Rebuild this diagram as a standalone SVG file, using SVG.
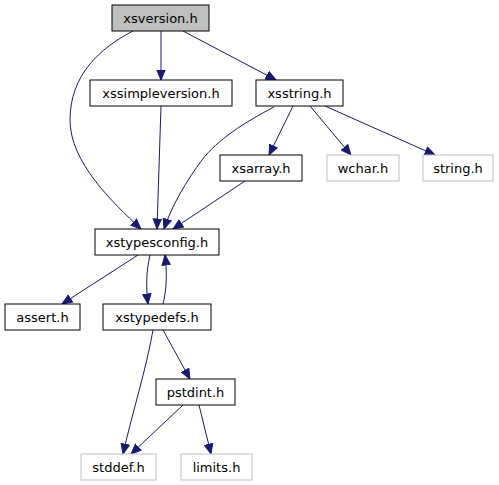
<svg xmlns="http://www.w3.org/2000/svg" width="499" height="485" viewBox="0 0 499 485">
<defs>
<style>
.n rect{fill:#ffffff;stroke:#000000;stroke-width:1}
.g rect{fill:#ffffff;stroke:#bfbfbf;stroke-width:1}
#n_xsversion rect{fill:#bfbfbf}
text{font-family:"DejaVu Sans","Liberation Sans",sans-serif;font-size:13px;fill:#000000;text-anchor:middle}
.e path{fill:none;stroke:#191970;stroke-width:1;marker-end:url(#a)}
</style>
<marker id="a" viewBox="0 0 11 10" refX="10.5" refY="5" markerWidth="11" markerHeight="10" markerUnits="userSpaceOnUse" orient="auto">
<path d="M0.5,0.8 L10.5,5 L0.5,9.2 z" fill="#191970" stroke="#191970" stroke-width="1"/>
</marker>
</defs>
<rect width="499" height="485" fill="#ffffff"/>
<g id="edges" class="e">
<path d="M161,31 L161,80"/>
<path d="M183,31 L276,80"/>
<path d="M133,31 C100,48 70,75 70,120 C70,162 112,202 141,229"/>
<path d="M161,106 L157,229"/>
<path d="M274,107 C245,122 217,140 202,160 C187,180 172,205 164,229"/>
<path d="M293,106 L269,155"/>
<path d="M310,106 L351,155"/>
<path d="M325,106 L435,155"/>
<path d="M245,181 L173,229"/>
<path d="M138,255 L62,304"/>
<path d="M150,255 C146,272 146,288 148,304"/>
<path d="M163,304 C167,288 167,272 165,255"/>
<path d="M153,330 C146,370 133,410 123,454"/>
<path d="M163,330 L190,379"/>
<path d="M183,405 L131,454"/>
<path d="M199,405 L211,454"/>
</g>
<g id="n_xsversion" class="n"><rect x="112" y="5" width="97" height="26"/><text x="160.5" y="22.5">xsversion.h</text></g>
<g id="n_xssimpleversion" class="n"><rect x="90" y="80" width="142" height="26"/><text x="161" y="97.5">xssimpleversion.h</text></g>
<g id="n_xsstring" class="n"><rect x="256" y="80" width="87" height="26"/><text x="299.5" y="97.5">xsstring.h</text></g>
<g id="n_xsarray" class="n"><rect x="220" y="155" width="82" height="26"/><text x="261" y="172.5">xsarray.h</text></g>
<g id="n_wchar" class="g"><rect x="327" y="155" width="72" height="26"/><text x="363" y="172.5">wchar.h</text></g>
<g id="n_string" class="g"><rect x="423" y="155" width="70" height="26"/><text x="458" y="172.5">string.h</text></g>
<g id="n_xstypesconfig" class="n"><rect x="95" y="229" width="124" height="26"/><text x="157" y="246.5">xstypesconfig.h</text></g>
<g id="n_assert" class="n"><rect x="5" y="304" width="75" height="26"/><text x="42.5" y="321.5">assert.h</text></g>
<g id="n_xstypedefs" class="n"><rect x="103" y="304" width="108" height="26"/><text x="157" y="321.5">xstypedefs.h</text></g>
<g id="n_pstdint" class="n"><rect x="156" y="379" width="79" height="26"/><text x="195.5" y="396.5">pstdint.h</text></g>
<g id="n_stddef" class="g"><rect x="81" y="454" width="75" height="26"/><text x="118.5" y="471.5">stddef.h</text></g>
<g id="n_limits" class="g"><rect x="181" y="454" width="71" height="26"/><text x="216.5" y="471.5">limits.h</text></g>
</svg>
